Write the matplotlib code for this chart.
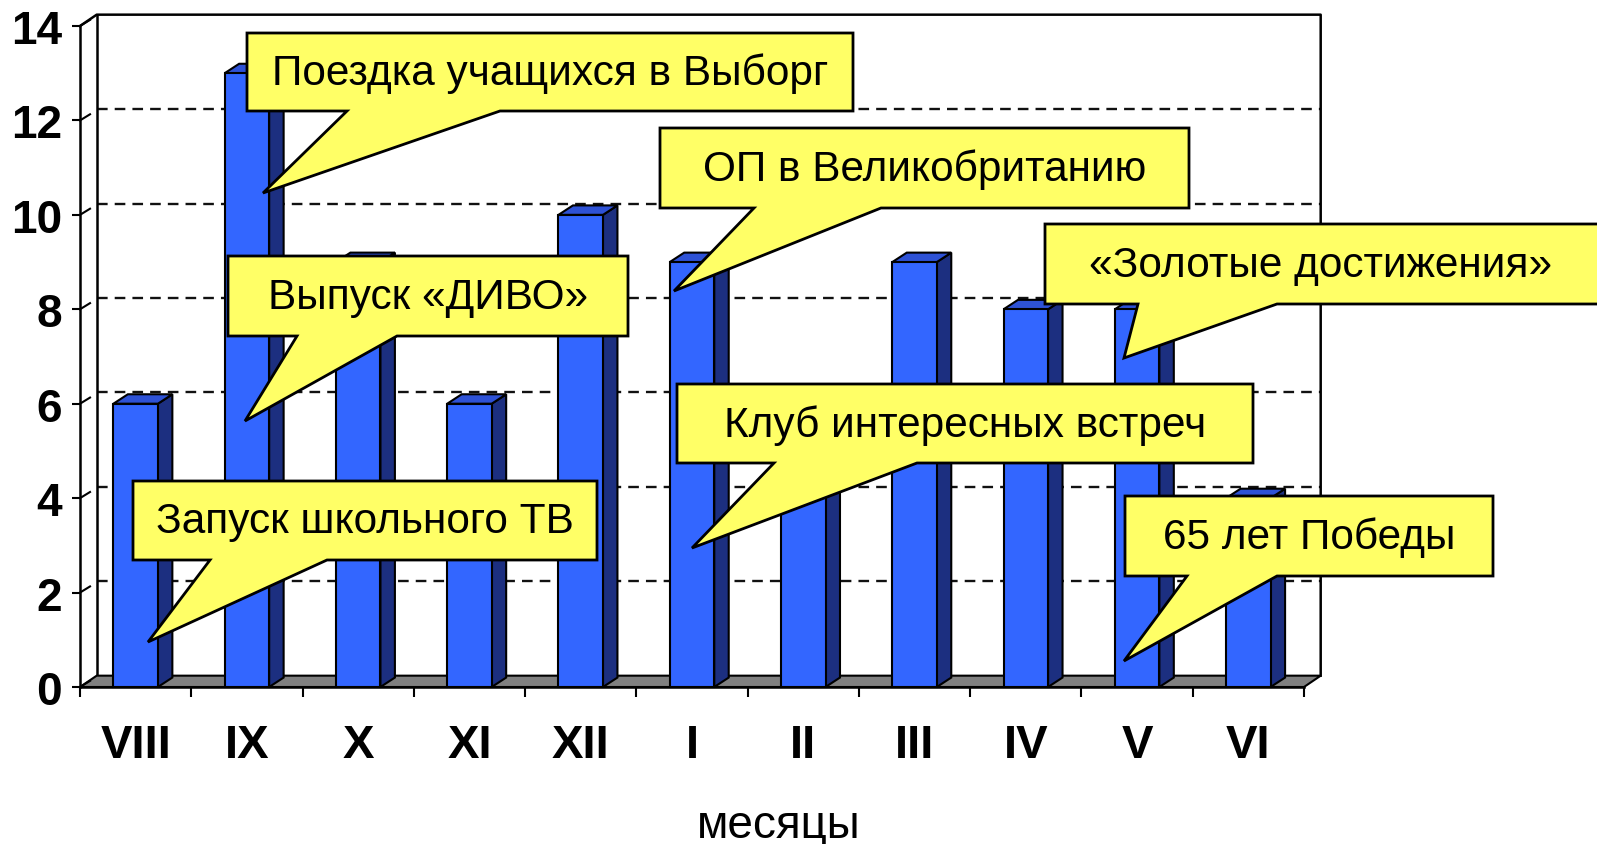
import matplotlib.pyplot as plt
from matplotlib.patches import Polygon
from matplotlib.transforms import ScaledTranslation

# data
months = ['VIII', 'IX', 'X', 'XI', 'XII', 'I', 'II', 'III', 'IV', 'V', 'VI']
events = [6, 13, 9, 6, 10, 9, 5, 9, 8, 8, 4]
y_ticks = [0, 2, 4, 6, 8, 10, 12, 14]
x_title = 'месяцы'

callout_texts = ['Поездка учащихся в Выборг',
                 'ОП в Великобританию',
                 'Выпуск «ДИВО»',
                 '«Золотые достижения»',
                 'Клуб интересных встреч',
                 'Запуск школьного ТВ',
                 '65 лет Победы']

# callout layout in image pixels: box (left, top, right, bottom), tail (base right x, tip, base left x)
callout_boxes = [(247, 34, 853, 112), (660, 129, 1189, 209), (228, 257, 628, 337),
                 (1045, 225, 1610, 305), (677, 385, 1253, 464), (133, 482, 597, 561),
                 (1125, 497, 1493, 577)]
callout_tails = [(500, (263, 194), 347), (881, (674, 292), 754), (397, (245, 422), 297),
                 (1277, (1124, 359), 1138), (917, (692, 549), 774), (327, (148, 643), 210),
                 (1277, (1124, 662), 1187)]

W, H = 1597, 845
FRONT = '#3366FF'
SIDE = '#1C2F80'
TOP = '#2E52D6'
FLOOR = '#808080'
CALLOUT = '#FFFF66'
FONT = 'Liberation Sans'

wdx, wdy = 0.15, 0.24   # wall / floor depth
bdx, bdy = 0.13, 0.2    # bar depth

fig = plt.figure(figsize=(W / 100, H / 100), dpi=100)
ax = fig.add_axes([80 / W, 1 - 688 / H, 1224 / W, 661 / H])
ax.set_xlim(0, len(months))
ax.set_ylim(0, 14)
for s in ax.spines.values():
    s.set_visible(False)

n = len(months)
# back wall gridlines
for y in y_ticks[1:-1]:
    ax.plot([wdx, n + wdx], [y + wdy, y + wdy], color='#111111', lw=1.7,
            dashes=(4.5, 3), zorder=0.5, clip_on=False)
# wall outline
ax.plot([0, 0], [0, 14], color='black', lw=1.8, zorder=2, clip_on=False)
ax.plot([wdx, wdx], [wdy, 14 + wdy], color='black', lw=1.8, zorder=0.6, clip_on=False)
ax.plot([0, wdx, n + wdx, n + wdx], [14, 14 + wdy, 14 + wdy, wdy],
        color='black', lw=1.8, zorder=0.6, clip_on=False)
# floor
ax.add_patch(Polygon([(0, 0), (n, 0), (n + wdx, wdy), (wdx, wdy)], closed=True,
                     facecolor=FLOOR, edgecolor='black', lw=1.5, zorder=1, clip_on=False))

# bars
ax.bar([i + 0.5 for i in range(n)], events, width=0.4, color=FRONT,
       edgecolor='black', lw=1.5, zorder=4, clip_on=False)
for i, v in enumerate(events):
    x0, x1 = i + 0.3, i + 0.7
    ax.add_patch(Polygon([(x1, 0), (x1 + bdx, bdy), (x1 + bdx, v + bdy), (x1, v)],
                         closed=True, facecolor=SIDE, edgecolor='black', lw=1.5,
                         zorder=3, clip_on=False))
    ax.add_patch(Polygon([(x0, v), (x0 + bdx, v + bdy), (x1 + bdx, v + bdy), (x1, v)],
                         closed=True, facecolor=TOP, edgecolor='black', lw=1.5,
                         zorder=3, clip_on=False))

# front axis line
ax.plot([0, n], [0, 0], color='black', lw=1.8, zorder=5, clip_on=False)

# ticks
ax.set_yticks(y_ticks)
ax.set_yticklabels([str(t) for t in y_ticks], fontsize=33, fontweight='bold', family=FONT)
ax.tick_params(axis='y', length=6, width=1.5, pad=7, direction='out')
shift = ScaledTranslation(0, -5 / 100, fig.dpi_scale_trans)
for lbl in ax.get_yticklabels():
    lbl.set_verticalalignment('center')
    lbl.set_transform(lbl.get_transform() + shift)
for y in y_ticks:
    ax.plot([0, 0.09], [y, y + 0.13], color='black', lw=1.5, zorder=2, clip_on=False)

ax.set_xticks([i + 0.5 for i in range(n)])
ax.set_xticklabels(months, fontsize=34, fontweight='bold', family=FONT)
ax.set_xticks(range(n + 1), minor=True)
ax.tick_params(axis='x', which='major', length=0, pad=26)
ax.tick_params(axis='x', which='minor', length=7, width=1.5, direction='out')

ax.set_xlabel(x_title, fontsize=33, family=FONT, va='center')
ax.xaxis.set_label_coords((779 - 80) / 1224, (688 - 826) / 661)


def px(x, y):
    return (x / W, 1 - y / H)


# callouts
for text, (l, t, r, b), (br, tip, bl) in zip(callout_texts, callout_boxes, callout_tails):
    pts = [(l, t), (r, t), (r, b), (br, b), tip, (bl, b), (l, b)]
    fig.add_artist(Polygon([px(*p) for p in pts], closed=True, facecolor=CALLOUT,
                           edgecolor='black', lw=2, transform=fig.transFigure, zorder=10))
    cx = (l + min(r, W)) / 2
    fig.text(*px(cx, (t + b) / 2 + 1), text, fontsize=30.5, family=FONT,
             ha='center', va='center', zorder=11)

fig.savefig('out.png', dpi=100)
